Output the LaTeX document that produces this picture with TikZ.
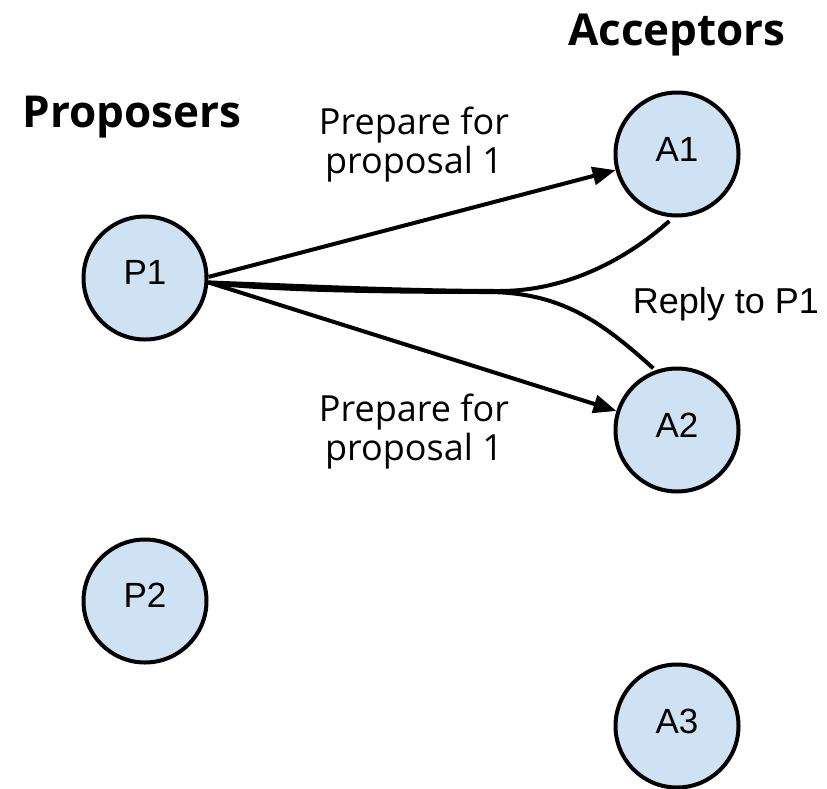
\documentclass[tikz,border=0pt]{standalone}
\usepackage{fontspec}
\setmainfont{Liberation Sans}
\newfontfamily\headfont{Open Sans}
\usetikzlibrary{arrows.meta}
\definecolor{nodefill}{HTML}{CFE2F3}
\tikzset{
  agent/.style={circle, draw=black, fill=nodefill, line width=4pt,
    minimum size=123pt, inner sep=0pt},
  agentlabel/.style={font=\fontsize{35pt}{35pt}\selectfont},
  msg/.style={line width=4pt, -{Triangle[length=23pt,width=18pt]}},
  reply/.style={line width=4pt},
  heading/.style={font=\headfont\bfseries\fontsize{44pt}{44pt}\selectfont, anchor=base, inner sep=0pt},
  msglabel/.style={font=\headfont\fontsize{36pt}{39pt}\selectfont, align=center, anchor=north, inner sep=0pt},
}
\begin{document}
\begin{tikzpicture}[x=1pt, y=-1pt]
\useasboundingbox (0,0) rectangle (827,788);

% proposers and acceptors
\node[agent, label={[agentlabel, yshift=6pt]center:P1}] (P1) at (145,278) {};
\node[agent, label={[agentlabel, yshift=6pt]center:P2}] (P2) at (145,601) {};
\node[agent, label={[agentlabel, yshift=5pt]center:A1}] (A1) at (677,154) {};
\node[agent, label={[agentlabel, yshift=5pt]center:A2}] (A2) at (677,430) {};
\node[agent, label={[agentlabel, yshift=5pt]center:A3}] (A3) at (677,726) {};

% column headings
\node[heading] (hprop) at (132,127) {Proposers};
\node[heading] (hacc) at (677,45) {Acceptors};

% prepare messages
\draw[msg] (P1.1) -- (A1);
\draw[msg] (P1.-4) -- (A2);

% replies back to P1
\draw[reply] ([yshift=-4pt]A1.-97) .. controls (620,265) and (560,291) .. (500,291)
  .. controls (400,291) and (280,285) .. (P1.-4);
\draw[reply] ([shift={(-2pt,2pt)}]A2.110) .. controls (600,320) and (560,293) .. (490,292)
  .. controls (380,292) and (260,290) .. (P1.-4);

% message labels
\node[msglabel] (l1) at (414,107) {Prepare for\\proposal 1};
\node[msglabel] (l2) at (414,394) {Prepare for\\proposal 1};
\node[font=\fontsize{36pt}{36pt}\selectfont, anchor=base, inner sep=0pt] (lr) at (726,313) {Reply to P1};
\end{tikzpicture}
\end{document}
